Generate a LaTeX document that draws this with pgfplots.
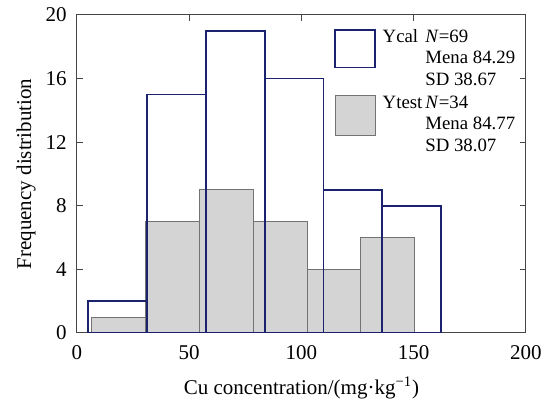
\documentclass[border=0pt]{standalone}
\usepackage{pgfplots}
\pgfplotsset{compat=1.18}
\usepackage{fontspec}
\setmainfont{Liberation Serif}

\definecolor{calblue}{RGB}{28,35,110}
\definecolor{testgray}{RGB}{212,212,212}
\definecolor{edgegray}{RGB}{115,115,115}
\definecolor{axisgray}{RGB}{70,70,70}

\begin{document}
\fontsize{10.5}{12}\selectfont
\begin{tikzpicture}
\begin{axis}[
    scale only axis, width=224.5pt, height=159pt,
    xmin=0, xmax=200, ymin=0, ymax=20,
    xtick={0,50,...,200}, ytick={0,4,...,20},
    tick align=inside, major tick length=3pt,
    axis line style={axisgray, line width=0.5pt},
    tick style={axisgray, line width=0.5pt},
    /pgf/number format/assume math mode=true,
    ticklabel style={font=\rmfamily\fontsize{10.5}{12}\selectfont},
    xticklabel style={yshift=-2.5pt},
    yticklabel style={xshift=-1.5pt},
    xlabel={Cu concentration/(mg·kg\textsuperscript{−1})},
    ylabel={Frequency distribution},
    xlabel style={at={(axis description cs:0.5,0)}, anchor=center, yshift=-27.5pt},
    ylabel style={at={(axis description cs:0,0.5)}, anchor=center, yshift=25.5pt},
]
% Ytest histogram (bin width 24)
\addplot[ybar interval, fill=testgray, draw=edgegray, line width=0.5pt] coordinates {
(6.5,1) (30.5,7) (54.5,9) (78.5,7) (102.5,4) (126.5,6) (150.5,0)
};
% Ycal histogram (bin width ~26.2)
\addplot[ybar interval, fill=none, draw=calblue, line width=0.9pt] coordinates {
(5.0,2) (31.2,15) (57.4,19) (83.6,16) (109.8,9) (136.0,8) (162.3,0)
};
% legend
\draw[calblue, line width=0.9pt, fill=white] (axis cs:115,16.7) rectangle (axis cs:132.8,19.05);
\draw[edgegray, line width=0.5pt, fill=testgray] (axis cs:115,12.45) rectangle (axis cs:132.8,14.95);
\begin{scope}[every node/.style={anchor=base west, inner sep=0, font=\fontsize{9.4}{11}\selectfont}]
\node at (axis cs:136,18.3) {Ycal};
\node at (axis cs:155,18.3) {\textit{N}=69};
\node at (axis cs:155,16.95) {Mena 84.29};
\node at (axis cs:155,15.55) {SD 38.67};
\node at (axis cs:136,14.15) {Ytest};
\node at (axis cs:155,14.15) {\textit{N}=34};
\node at (axis cs:155,12.8) {Mena 84.77};
\node at (axis cs:155,11.4) {SD 38.07};
\end{scope}
\end{axis}
\pgfresetboundingbox
\path[use as bounding box] (-38.5pt,-36pt) rectangle (238.5pt,166.5pt);
\end{tikzpicture}
\end{document}
